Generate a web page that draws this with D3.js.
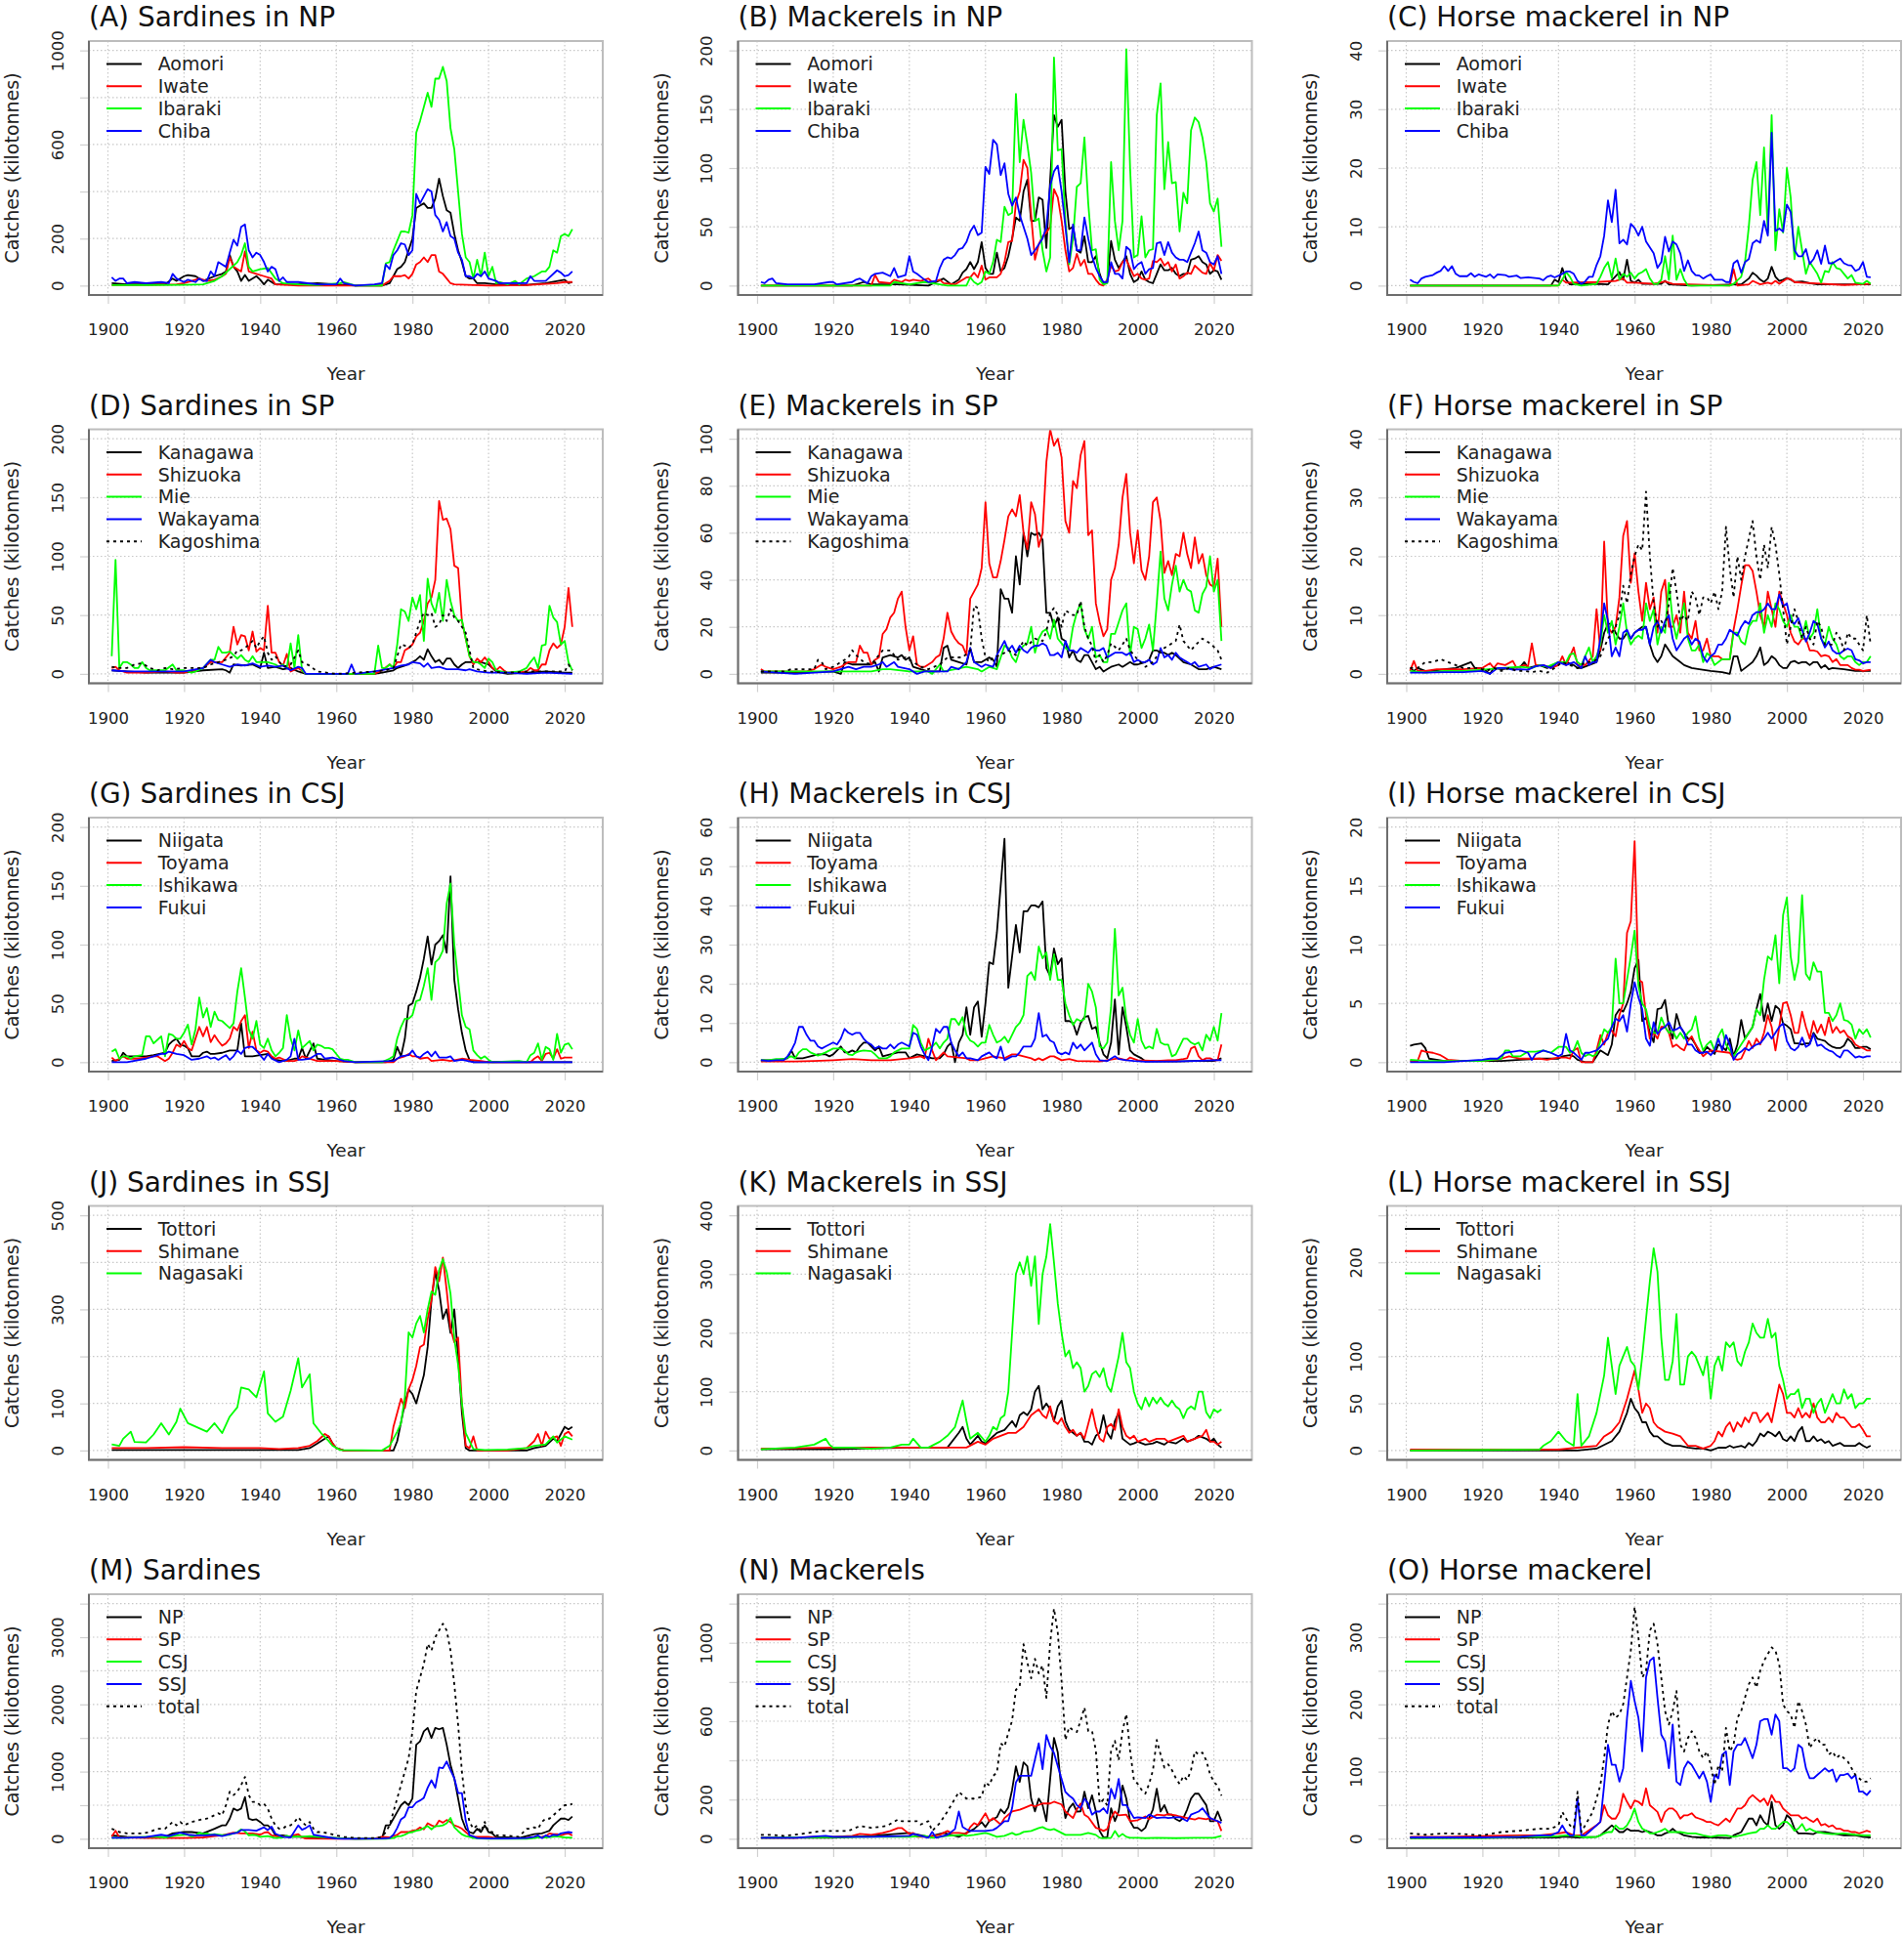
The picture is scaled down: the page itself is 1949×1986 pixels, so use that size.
<!DOCTYPE html>
<html>
<head>
<meta charset="utf-8">
<script src="https://cdn.jsdelivr.net/npm/d3@7"></script>
<style>
  body { margin: 0; background: #fff; }
  svg { display: block; font-family: "DejaVu Sans", sans-serif; }
</style>
</head>
<body>
<svg id="chart" width="1949" height="1986"></svg>
<script>
// every series is a flat list: year, catch (kilotonnes), year, catch, ...
var A_aomori = [1901,10,1905,5,1910,5,1915,5,1917,30,1918,20,1920,40,1921,45,1923,40,1925,20,1928,40,1930,50,1931,60,1932,130,1933,80,1934,60,1935,20,1936,45,1937,20,1939,40,1940,25,1941,5,1942,25,1943,15,1944,5,1950,5,1955,10,1960,5,1965,0,1972,0,1974,10,1975,40,1976,70,1977,80,1978,100,1979,150,1980,200,1981,330,1982,340,1983,350,1984,330,1985,330,1986,370,1987,455,1988,380,1989,320,1990,310,1991,220,1992,150,1993,100,1994,40,1995,30,1996,30,1997,10,1999,10,2002,5,2010,3,2015,10,2020,25,2021,10,2022,15];
var A_iwate = [1901,2,1910,2,1918,5,1920,10,1922,20,1924,30,1926,20,1928,25,1930,40,1931,50,1932,120,1933,80,1934,70,1935,60,1936,145,1937,60,1938,55,1939,50,1941,40,1943,30,1944,5,1950,0,1972,0,1974,20,1975,40,1977,40,1978,45,1979,30,1980,50,1981,90,1982,100,1983,120,1984,100,1985,130,1986,130,1987,60,1988,50,1989,30,1990,10,1991,5,2000,0,2010,2,2018,10,2020,15,2022,15];
var A_ibaraki = [1901,2,1910,2,1920,3,1925,5,1928,20,1930,40,1932,70,1934,100,1935,130,1936,180,1937,80,1938,60,1940,70,1942,75,1944,30,1946,10,1950,5,1955,2,1961,10,1962,15,1965,0,1972,0,1973,95,1974,100,1975,150,1976,190,1977,230,1978,230,1979,225,1980,300,1981,650,1982,700,1983,760,1984,820,1985,760,1986,880,1987,880,1988,930,1989,870,1990,670,1991,580,1992,400,1993,220,1994,120,1995,100,1996,30,1997,110,1998,40,1999,140,2000,40,2001,80,2002,10,2003,15,2005,5,2007,20,2008,5,2010,30,2012,40,2014,60,2015,60,2016,80,2017,150,2018,140,2019,210,2020,220,2021,210,2022,240];
var A_chiba = [1901,35,1902,20,1903,30,1904,30,1905,10,1907,15,1910,10,1914,15,1916,10,1917,50,1918,30,1920,15,1921,25,1923,15,1924,30,1925,20,1926,20,1927,60,1928,40,1929,100,1930,90,1931,80,1932,140,1933,195,1934,170,1935,250,1936,260,1937,150,1938,120,1939,140,1940,130,1941,100,1942,60,1943,80,1944,70,1945,20,1946,35,1947,15,1950,15,1955,5,1960,5,1961,30,1962,10,1965,0,1970,5,1972,10,1973,90,1974,70,1975,130,1976,150,1977,180,1978,175,1979,130,1980,150,1981,390,1982,350,1983,380,1984,410,1985,400,1986,300,1987,280,1988,230,1989,270,1990,210,1991,200,1992,140,1993,110,1994,40,1995,40,1996,30,1997,50,1998,40,1999,60,2000,30,2002,20,2003,10,2010,10,2011,40,2012,20,2015,20,2018,65,2019,55,2020,40,2021,45,2022,60];

var B_aomori = [1901,0,1925,0,1928,3,1930,1,1937,1,1945,0,1949,6,1951,1,1953,5,1954,11,1955,14,1956,20,1957,14,1958,20,1959,37,1960,15,1961,10,1962,10,1963,28,1964,12,1965,15,1966,25,1967,40,1968,58,1969,55,1970,80,1971,90,1972,55,1973,55,1974,75,1975,73,1976,32,1977,90,1978,145,1979,135,1980,141,1981,80,1982,48,1983,50,1984,30,1985,28,1986,42,1987,20,1988,20,1989,25,1990,10,1991,1,1992,3,1993,38,1994,22,1995,15,1996,20,1997,25,1998,10,1999,3,2000,5,2001,12,2002,5,2003,3,2004,2,2005,10,2006,18,2007,13,2008,13,2009,15,2010,10,2011,8,2012,10,2013,10,2014,22,2015,23,2016,25,2017,20,2018,18,2019,10,2020,13,2021,12,2022,5];
var B_iwate = [1901,0,1930,0,1931,9,1932,3,1935,2,1936,5,1938,3,1939,5,1940,4,1941,5,1943,4,1945,6,1946,3,1948,5,1949,2,1952,1,1955,7,1956,7,1957,11,1958,7,1959,17,1960,5,1961,7,1963,7,1964,10,1965,20,1966,37,1967,38,1968,70,1969,80,1970,107,1971,100,1972,60,1973,22,1974,35,1975,42,1976,45,1977,50,1978,82,1979,75,1980,55,1981,30,1982,12,1983,15,1984,27,1985,17,1986,22,1987,10,1988,10,1989,5,1990,1,1991,0,1992,5,1993,17,1994,12,1995,13,1996,20,1997,22,1998,15,1999,8,2000,10,2001,6,2002,5,2003,6,2004,21,2005,20,2006,23,2007,17,2008,20,2009,12,2010,18,2011,6,2012,8,2013,11,2014,10,2015,17,2016,14,2017,11,2018,10,2019,19,2020,13,2021,26,2022,21];
var B_ibaraki = [1901,0,1935,0,1936,3,1940,1,1944,3,1948,1,1950,0,1955,0,1956,7,1957,3,1958,1,1959,3,1960,12,1961,10,1962,20,1963,39,1964,37,1965,67,1966,60,1967,62,1968,163,1969,105,1970,141,1971,120,1972,96,1973,55,1974,57,1975,30,1976,12,1977,24,1978,194,1979,115,1980,116,1981,55,1982,18,1983,40,1984,84,1985,87,1986,126,1987,70,1988,30,1989,31,1990,5,1991,1,1992,2,1993,105,1994,55,1995,30,1996,55,1997,201,1998,100,1999,24,2000,26,2001,59,2002,24,2003,30,2004,31,2005,145,2006,172,2007,82,2008,122,2009,87,2010,88,2011,46,2012,79,2013,70,2014,132,2015,143,2016,139,2017,126,2018,105,2019,70,2020,63,2021,74,2022,33];
var B_chiba = [1901,3,1902,2,1903,5,1904,6,1905,2,1908,1,1915,1,1919,3,1920,3,1921,1,1925,3,1926,5,1927,6,1929,2,1930,8,1931,10,1933,11,1935,8,1936,15,1937,7,1939,9,1940,25,1941,12,1942,10,1944,5,1945,3,1947,4,1948,15,1949,22,1950,24,1951,23,1952,26,1953,31,1954,32,1955,37,1956,46,1957,51,1958,43,1959,45,1960,101,1961,95,1962,124,1963,120,1964,94,1965,104,1966,78,1967,68,1968,75,1969,60,1970,50,1971,40,1972,26,1973,30,1975,40,1976,50,1977,85,1978,97,1979,102,1980,80,1981,50,1982,20,1983,52,1984,30,1985,30,1986,58,1987,40,1988,25,1989,15,1990,8,1991,3,1992,3,1993,20,1994,10,1995,10,1996,6,1997,33,1998,30,1999,14,2000,18,2001,20,2002,10,2003,14,2004,15,2005,36,2006,37,2007,26,2008,37,2009,28,2010,24,2011,22,2012,22,2013,20,2014,28,2015,36,2016,46,2017,30,2018,28,2019,20,2020,18,2021,25,2022,10];

var C_aomori = [1901,0,1938,0,1939,1,1940,0.6,1941,3,1942,1,1943,0.2,1950,0.3,1953,0.2,1956,2.3,1957,1,1958,4.4,1959,0.8,1960,0.5,1961,1,1962,0.3,1967,0.3,1968,0.8,1969,0.2,1975,0,1988,0.2,1990,1.2,1991,2.2,1992,1.7,1993,1,1994,0.6,1995,1.2,1996,3.2,1997,1.5,1998,0.8,1999,1,2000,1.3,2001,1,2002,0.6,2004,0.7,2006,0.4,2008,0.2,2022,0.2];
var C_iwate = [1901,0,1940,0,1941,1,1942,0.5,1950,0.6,1955,0.8,1957,1.2,1958,0.5,1960,0.5,1965,0.3,1968,0.7,1970,0.3,1985,0,1986,2.8,1987,0,1990,0.2,1991,0.8,1993,0.2,1995,0.5,1996,0.3,1997,0.8,1998,0.3,2000,1.2,2001,1.1,2002,0.6,2004,0.5,2010,0.3,2015,0.1,2022,0.3];
var C_ibaraki = [1901,0,1940,0,1941,1,1942,2.3,1943,1.5,1944,0.3,1946,0,1950,0.3,1951,1.5,1952,3,1953,4,1954,1.3,1955,4.6,1956,1,1957,2,1958,1.5,1959,2.2,1960,1.2,1961,2,1962,2.3,1963,2.8,1964,1.2,1965,0.3,1966,0.3,1967,1,1968,5,1969,1,1970,8.5,1971,1,1972,2.8,1973,1,1974,0,1985,0,1986,0.3,1988,1.5,1989,4,1990,10,1991,18,1992,21,1993,12,1994,23.5,1995,9,1996,29,1997,6,1998,13,1999,9,2000,20,2001,15,2002,4.5,2003,10,2004,6,2005,2,2006,4,2007,3,2008,2,2009,0.5,2010,2.5,2011,2.3,2012,4,2013,3,2014,2.8,2015,2,2016,1.2,2017,1.8,2018,0.5,2020,0.3,2021,0.8,2022,0.3];
var C_chiba = [1901,1,1902,0.6,1903,0.4,1904,1.2,1905,1.5,1907,1.8,1908,2.2,1909,2.5,1910,3.3,1911,2.5,1912,3.3,1913,2,1914,1.6,1916,1.6,1917,2.1,1918,1.5,1919,1.9,1921,1.5,1922,1.9,1923,1.3,1924,1.9,1926,1.8,1927,1.5,1929,1.7,1930,1.3,1932,1.4,1935,1.2,1936,0.9,1937,1.5,1938,1.7,1939,1.4,1941,2,1942,2.4,1943,2.4,1944,2,1945,0.8,1946,0.3,1947,0.7,1948,1.5,1949,1.5,1950,3.5,1951,5,1952,8.5,1953,14.5,1954,10.8,1955,16.3,1956,7.2,1957,7.8,1958,7,1959,10.5,1960,9.8,1961,8.5,1962,10,1963,7.5,1964,6.5,1965,5.5,1966,3,1967,4,1968,8.3,1969,5.8,1970,7.5,1971,7,1972,5.5,1973,2.5,1974,4.3,1975,2.5,1976,1.8,1977,1.7,1978,1.2,1979,1.6,1980,1.9,1981,1,1983,1,1984,0.6,1985,0.6,1986,3.8,1987,4.3,1988,2.2,1989,4,1990,4.5,1991,7.2,1992,7.7,1993,7.3,1994,11,1995,8.5,1996,26,1997,9.3,1998,9.7,1999,9.2,2000,13.8,2001,12.5,2002,6,2003,5,2004,5,2005,6.2,2006,3.7,2007,4.5,2008,6,2009,3.7,2010,6.8,2011,3.8,2012,3.8,2013,4.2,2014,4.6,2015,3.8,2016,3.5,2017,3.4,2018,2.5,2019,2.8,2020,4,2021,1.5,2022,1.4];

var D_kanagawa = [1901,3,1905,2,1910,1,1920,1,1925,3,1930,4,1931,3,1932,1,1933,8,1935,7,1938,8,1940,5,1941,18,1942,5,1944,6,1946,4,1948,5,1950,2,1952,0,1970,0,1972,1,1975,3,1976,5,1978,7,1980,10,1981,12,1982,15,1983,12,1984,21,1985,15,1986,10,1987,12,1988,8,1989,13,1990,13,1991,8,1992,5,1993,8,1994,10,1995,10,1996,10,1998,10,2000,8,2001,5,2002,2,2005,0,2010,1,2015,2,2020,1,2022,1];
var D_shizuoka = [1901,5,1902,6,1903,3,1905,1,1910,1,1915,2,1918,1,1920,1,1925,5,1927,10,1930,10,1932,18,1933,40,1934,25,1935,33,1936,32,1937,20,1938,36,1939,19,1940,22,1941,20,1942,58,1943,18,1944,18,1945,10,1946,7,1947,17,1948,2,1950,5,1952,0,1970,0,1972,3,1974,8,1975,5,1976,10,1977,10,1978,20,1979,22,1980,25,1981,32,1982,35,1983,45,1984,60,1985,65,1986,80,1987,147,1988,131,1989,132,1990,123,1991,92,1992,90,1993,45,1994,30,1995,15,1996,8,1997,13,1998,10,1999,14,2000,10,2001,5,2002,3,2003,6,2004,3,2005,1,2010,2,2011,5,2012,3,2013,3,2014,8,2015,8,2016,20,2017,26,2018,22,2019,25,2020,40,2021,73,2022,40];
var D_mie = [1901,15,1902,97,1903,5,1904,10,1905,10,1906,8,1907,5,1908,5,1909,10,1910,5,1911,3,1915,3,1917,8,1918,3,1920,3,1922,1,1923,2,1925,5,1927,12,1928,12,1929,23,1930,18,1931,18,1932,19,1933,16,1934,13,1935,16,1936,12,1937,10,1938,15,1939,10,1940,10,1942,10,1944,8,1945,6,1946,8,1947,5,1948,26,1949,5,1950,33,1951,3,1952,0,1970,0,1971,24,1972,5,1973,5,1974,8,1975,5,1976,25,1977,55,1978,53,1979,45,1980,65,1981,55,1982,67,1983,28,1984,81,1985,60,1986,52,1987,69,1988,45,1989,80,1990,62,1991,50,1992,45,1993,46,1994,30,1995,15,1996,10,1997,10,1998,8,1999,5,2000,13,2001,10,2002,3,2005,1,2008,2,2010,5,2011,10,2012,14,2013,5,2014,24,2015,25,2016,58,2017,48,2018,44,2019,25,2020,28,2021,10,2022,3];
var D_wakayama = [1901,3,1905,2,1910,2,1915,2,1920,2,1925,5,1927,12,1928,10,1930,8,1932,6,1934,8,1936,7,1938,9,1940,6,1942,7,1944,6,1946,7,1948,3,1950,6,1951,5,1952,0,1963,0,1964,8,1965,0,1970,2,1975,5,1977,7,1979,8,1980,10,1982,9,1983,6,1984,9,1985,5,1987,6,1989,4,1992,4,1994,3,1995,4,1997,2,2000,1,2005,1,2010,0,2015,1,2022,0];
var D_kagoshima = [1901,6,1903,5,1905,5,1907,8,1909,9,1911,5,1913,3,1915,5,1917,4,1920,5,1925,5,1927,8,1929,10,1931,12,1933,15,1934,20,1935,20,1936,22,1937,25,1938,28,1939,22,1940,28,1941,32,1942,18,1943,12,1944,15,1946,6,1948,8,1950,20,1951,10,1953,7,1955,2,1960,0,1970,2,1973,3,1975,5,1976,15,1977,25,1978,24,1979,22,1980,25,1981,35,1982,45,1983,52,1984,50,1985,52,1986,40,1987,42,1988,50,1989,45,1990,55,1991,48,1992,45,1993,40,1994,35,1995,20,1996,5,1998,3,2000,2,2005,1,2010,2,2015,2,2020,2,2021,8,2022,3];

var E_kanagawa = [1901,0.5,1910,0.5,1920,1,1922,0,1923,5,1925,4,1930,4,1931,5,1932,1,1933,7,1935,8,1937,7,1938,8,1939,6,1940,7,1941,3,1943,2,1945,1,1948,1,1949,11,1950,12,1951,6,1953,5,1955,4,1956,11,1957,5,1959,5,1961,7,1962,6,1963,3,1964,36,1965,32,1966,32,1967,26,1968,50,1969,38,1970,60,1971,50,1972,60,1973,59,1974,60,1975,57,1976,26,1977,26,1978,20,1979,24,1980,15,1981,14,1982,7,1983,10,1984,6,1985,5,1986,8,1987,8,1988,5,1989,2,1990,3,1991,1,1992,2,1993,3,1995,4,1996,3,1997,4,1998,5,1999,4,2000,4,2002,5,2003,6,2004,10,2005,10,2006,9,2007,9,2008,8,2009,9,2010,8,2012,5,2014,4,2016,2,2018,2,2020,3,2022,2];
var E_shizuoka = [1901,2,1902,1,1905,1,1910,1,1913,1,1915,2,1917,4,1918,3,1920,2,1922,3,1924,5,1926,5,1927,12,1928,9,1929,9,1930,4,1931,6,1932,7,1933,17,1934,19,1935,24,1936,26,1937,32,1938,35,1939,20,1940,10,1941,16,1942,4,1943,3,1944,3,1945,4,1946,5,1947,7,1948,8,1949,15,1950,26,1951,18,1952,15,1953,13,1954,12,1955,8,1956,32,1957,35,1958,38,1959,45,1960,73,1961,47,1962,41,1963,41,1964,48,1965,57,1966,67,1967,70,1968,67,1969,76,1970,60,1971,53,1972,73,1973,68,1974,54,1975,60,1976,90,1977,104,1978,97,1979,100,1980,92,1981,65,1982,60,1983,82,1984,79,1985,93,1986,99,1987,59,1988,61,1989,30,1990,22,1991,16,1992,19,1993,40,1994,45,1995,55,1996,75,1997,85,1998,60,1999,47,2000,61,2001,44,2002,40,2003,50,2004,73,2005,75,2006,65,2007,43,2008,48,2009,42,2010,51,2011,50,2012,60,2013,51,2014,45,2015,58,2016,47,2017,51,2018,42,2019,38,2020,37,2021,49,2022,20];
var E_mie = [1901,1,1910,1,1920,1,1925,1,1930,1,1933,2,1935,2,1940,1,1945,1,1946,0,1948,4,1949,1,1952,2,1955,3,1958,2,1959,1,1961,3,1963,2,1964,7,1965,12,1966,11,1967,7,1968,5,1969,10,1970,12,1971,13,1972,20,1973,9,1974,15,1975,18,1976,19,1977,15,1978,23,1979,15,1980,13,1981,11,1982,10,1983,20,1984,26,1985,30,1986,19,1987,15,1988,20,1989,7,1990,8,1991,5,1992,5,1993,17,1994,17,1995,22,1996,27,1997,30,1998,8,1999,20,2000,19,2001,11,2002,15,2003,21,2004,10,2005,30,2006,52,2007,32,2008,27,2009,38,2010,46,2011,35,2012,40,2013,36,2014,35,2015,27,2016,26,2017,34,2018,37,2019,50,2020,35,2021,40,2022,14];
var E_wakayama = [1901,1,1910,0,1920,1,1924,3,1926,2,1928,3,1930,3,1932,4,1933,5,1934,3,1936,5,1937,3,1940,2,1942,0,1944,1,1948,1,1950,1,1951,3,1953,2,1955,5,1956,11,1957,5,1959,3,1960,4,1962,3,1963,8,1964,11,1965,14,1966,10,1967,12,1968,9,1969,12,1970,10,1971,9,1972,11,1973,12,1974,12,1975,13,1976,12,1977,8,1978,8,1979,9,1980,7,1981,14,1982,10,1983,10,1984,9,1985,11,1986,10,1987,9,1988,11,1989,10,1990,10,1991,11,1992,7,1993,8,1994,9,1996,9,1997,8,1998,9,1999,5,2000,6,2001,5,2002,5,2003,6,2004,4,2005,5,2006,11,2007,7,2008,8,2009,6,2010,9,2011,7,2012,6,2013,5,2014,4,2015,5,2016,3,2018,4,2019,2,2020,3,2022,4];
var E_kagoshima = [1901,1,1903,1,1905,1,1907,1,1909,2,1911,2,1913,2,1915,2,1916,6,1917,5,1918,2,1920,3,1922,5,1924,7,1925,10,1926,8,1928,5,1930,4,1932,8,1933,10,1935,10,1937,6,1939,7,1941,5,1943,3,1945,2,1948,4,1950,7,1952,7,1954,7,1956,10,1957,29,1958,28,1959,15,1960,7,1961,5,1962,7,1964,8,1966,10,1968,8,1970,14,1971,12,1973,15,1975,14,1976,18,1977,26,1978,28,1979,25,1980,20,1981,27,1982,26,1983,25,1984,25,1985,31,1986,20,1987,15,1988,12,1989,5,1990,8,1991,5,1992,8,1993,13,1995,10,1997,15,1998,10,2000,6,2002,3,2004,5,2006,10,2008,12,2010,14,2011,21,2012,14,2014,10,2015,12,2017,15,2019,13,2021,10,2022,6];

var F_kanagawa = [1901,1,1902,0.5,1903,1,1905,0.5,1907,0.5,1910,0.8,1913,1,1915,1.5,1917,2,1918,1,1920,1,1922,0,1923,1,1925,0.8,1928,1,1930,1.2,1931,2,1932,1,1935,1.5,1937,1,1940,2,1942,2,1944,1.5,1945,1,1946,1,1948,1.5,1950,2,1951,4,1952,7,1953,8.5,1954,8.5,1955,7,1956,6,1957,6,1958,7,1959,6,1960,7,1961,7.5,1962,8,1963,8,1964,5,1965,3,1966,2,1967,3,1968,5,1969,4,1970,3,1971,2.5,1972,2,1973,1.5,1975,1,1977,0.8,1980,0.5,1983,0.3,1985,0,1986,3,1987,3,1988,0.5,1990,1.5,1991,2,1992,3,1993,4.5,1994,1.5,1995,2,1996,3,1997,2.5,1998,1.5,1999,1,2000,1,2001,2,2002,2.2,2003,1.8,2004,2,2005,2,2006,1.5,2007,2,2008,2,2009,1,2010,1.5,2011,0.8,2012,1,2015,0.8,2018,0.5,2022,0.5];
var F_shizuoka = [1901,0.5,1902,2.2,1903,0.5,1905,0.5,1908,0.8,1910,0.8,1915,0.8,1920,1,1922,1.8,1923,1,1924,1.8,1926,1.5,1928,2.2,1929,1,1931,1.5,1932,1.3,1933,5.2,1934,1.5,1936,1.5,1938,1,1940,1.5,1941,3,1942,1.5,1944,4.5,1945,1.5,1947,1.5,1949,3,1950,11,1951,4,1952,22.5,1953,8,1954,7,1955,8,1956,13,1957,23.5,1958,26,1959,15.5,1960,20.5,1961,14,1962,9,1963,15.5,1964,11,1965,13,1966,7,1967,14,1968,16,1969,8,1970,8,1971,10,1972,7,1973,14,1974,7,1975,6,1976,9,1977,4,1978,4,1979,6,1980,3,1981,3,1982,3,1983,2.5,1984,2.5,1985,2.5,1986,7.5,1987,11,1988,15,1989,18.5,1990,18.5,1991,17.5,1992,14,1993,10,1994,8,1995,14,1996,11,1997,8,1998,14,1999,12,2000,10,2001,7,2002,5.5,2003,5,2004,6,2005,6,2006,4,2007,4,2008,3.8,2009,3,2010,3.2,2011,3,2012,2,2013,2.5,2014,1.5,2015,1.5,2016,1.5,2017,1,2018,0.7,2019,0.7,2020,0.5,2022,0.7];
var F_mie = [1901,0.5,1905,0.2,1910,0.5,1915,0.5,1920,0.7,1925,1,1930,1.2,1933,1,1935,1.5,1937,1.2,1940,2,1942,2,1943,3.3,1944,3.5,1945,2,1946,1.5,1947,3,1948,4.5,1949,2,1950,3,1951,5,1952,10,1953,7,1954,9,1955,5,1956,8,1957,12,1958,7,1959,5,1960,6,1961,6.5,1962,6,1963,12,1964,9,1965,11,1966,5,1967,8,1968,7,1969,15.5,1970,9,1971,6,1972,9,1973,12,1974,6,1975,4,1976,4,1977,5,1978,2,1979,3.5,1980,3,1981,1.5,1982,2,1983,2.5,1984,2.5,1985,2.5,1986,7,1987,7,1988,5.5,1989,5,1990,8,1991,9,1992,9,1993,12,1994,7,1995,10,1996,8,1997,12,1998,11,1999,9,2000,8,2001,10,2002,8,2003,8,2004,6,2005,9,2006,6,2007,7,2008,11,2009,6,2010,5,2011,8,2012,6,2013,5,2014,3,2015,2.5,2016,3,2017,3,2018,2,2019,1.5,2020,2,2021,2,2022,3];
var F_wakayama = [1901,0.2,1905,0.2,1910,0.3,1915,0.3,1920,0.5,1922,0,1924,1,1926,1,1928,0.7,1930,0.8,1932,0.7,1934,1.3,1936,1.5,1938,1,1940,2,1942,1.5,1944,2,1946,1,1947,3,1948,1.5,1949,2,1950,2,1951,6,1952,12,1953,9,1954,3,1955,4.5,1956,3,1957,7,1958,7.5,1959,6,1960,7,1961,7.5,1962,7.5,1963,8,1964,5,1965,8,1966,9,1967,7,1968,9,1969,10,1970,6,1971,4,1972,5,1973,6,1974,6.5,1975,5,1976,6,1977,5.5,1978,3,1979,2,1980,3,1981,3.5,1982,5,1983,5,1984,6,1985,7.5,1986,7,1987,6.5,1988,8,1989,9,1990,8.5,1991,10,1992,10.5,1993,10.5,1994,11,1995,12,1996,11,1997,11,1998,13.5,1999,11.5,2000,12,2001,9,2002,8.5,2003,9.5,2004,7.5,2005,5.5,2006,7,2007,9,2008,8.5,2009,6,2010,4.5,2011,5.5,2012,4,2013,3.5,2014,3.5,2015,4,2016,4.3,2017,4,2018,2.5,2019,2.3,2020,1.8,2021,2,2022,2];
var F_kagoshima = [1901,1,1903,1,1905,2,1907,2,1909,2.5,1911,2,1913,1.5,1915,1,1917,1,1919,1,1921,0.5,1923,1,1925,0.5,1927,1,1929,0.5,1931,0.5,1933,0.3,1935,0.5,1937,0.2,1939,1,1941,2,1943,1.5,1945,1,1947,2,1949,2,1951,3,1953,6,1955,8,1956,10,1957,15,1958,12,1959,17,1960,20,1961,22,1962,21,1963,31,1964,20,1965,12,1966,8,1967,9,1968,8,1969,12,1970,18,1971,14,1972,9,1973,10,1974,9,1975,14,1976,13,1977,10,1978,13,1979,13,1980,12,1981,14,1982,11,1983,14,1984,25,1985,18,1986,13,1987,20,1988,16,1989,20,1990,23,1991,26,1992,20,1993,16,1994,22,1995,18,1996,25,1997,22,1998,17,1999,11,2000,5,2001,8,2002,11,2003,9,2004,6,2005,8,2006,6,2007,5,2008,9,2009,8,2010,5,2011,5,2012,5,2013,7,2014,6,2015,4,2016,7,2017,6,2018,6,2019,5,2020,4,2021,10,2022,5];

var G_niigata = [1901,1,1903,2,1904,8,1905,5,1908,5,1910,5,1912,6,1915,8,1916,15,1917,18,1918,20,1919,15,1920,14,1921,12,1922,5,1923,5,1924,5,1925,8,1926,9,1927,7,1928,7,1930,8,1932,10,1934,10,1935,33,1936,5,1938,5,1940,6,1942,7,1944,2,1946,1,1948,2,1949,3,1950,3,1951,12,1952,3,1954,16,1955,3,1957,2,1960,1,1965,0,1973,0,1975,2,1976,13,1977,5,1978,20,1979,48,1980,50,1981,60,1982,72,1983,88,1984,107,1985,83,1986,100,1987,103,1988,108,1989,93,1990,158,1991,70,1992,45,1993,25,1994,10,1995,2,1996,0,2022,0];
var G_toyama = [1901,4,1902,1,1904,5,1905,3,1908,3,1910,4,1912,5,1913,5,1915,1,1916,3,1917,8,1918,15,1919,13,1920,18,1921,12,1922,10,1923,20,1924,30,1925,22,1926,30,1927,17,1928,23,1929,18,1930,14,1931,16,1932,20,1933,30,1934,27,1935,35,1936,40,1937,12,1938,26,1939,10,1940,8,1941,10,1942,9,1943,5,1944,3,1945,4,1947,1,1949,1,1950,2,1951,5,1955,1,1960,1,1965,0,1975,0,1976,3,1978,5,1979,7,1980,5,1981,5,1982,3,1984,4,1985,1,1988,2,1990,1,1993,3,1995,2,1998,1,2000,0,2011,0,2012,3,2013,5,2014,1,2015,7,2016,8,2017,3,2018,11,2019,3,2020,4,2022,4];
var G_ishikawa = [1901,9,1902,11,1903,3,1904,5,1905,5,1906,3,1907,5,1909,6,1910,22,1911,22,1912,16,1913,19,1914,22,1915,5,1916,24,1917,23,1918,20,1919,20,1920,25,1921,32,1922,15,1923,28,1924,55,1925,38,1926,46,1927,30,1928,43,1929,36,1930,35,1931,32,1932,29,1933,33,1934,60,1935,80,1936,55,1937,28,1938,20,1939,35,1940,15,1941,12,1942,20,1943,10,1944,5,1945,8,1946,12,1947,40,1948,20,1949,10,1950,27,1951,12,1952,15,1953,18,1954,10,1955,15,1956,14,1957,12,1958,12,1959,11,1960,7,1961,3,1962,2,1963,2,1965,0,1972,0,1974,3,1975,5,1976,20,1977,30,1978,37,1979,37,1980,40,1981,52,1982,53,1983,65,1984,80,1985,53,1986,85,1987,88,1988,95,1989,135,1990,152,1991,100,1992,70,1993,40,1994,30,1995,28,1996,10,1997,6,1998,3,1999,5,2000,2,2001,0,2008,1,2010,0,2011,6,2012,8,2013,16,2014,2,2015,13,2016,11,2017,2,2018,24,2019,8,2020,15,2021,16,2022,11];
var G_fukui = [1901,0,1905,0,1910,3,1912,5,1914,7,1915,7,1916,9,1918,7,1920,6,1922,2,1924,3,1926,5,1927,3,1928,4,1929,2,1930,4,1931,6,1932,2,1933,5,1934,10,1935,7,1936,12,1937,13,1938,13,1939,10,1940,6,1941,2,1942,7,1943,3,1945,0,1947,2,1948,5,1949,20,1950,2,1951,2,1953,3,1955,7,1956,7,1957,3,1959,4,1960,3,1962,1,1965,0,1975,1,1977,5,1979,6,1980,10,1981,5,1982,4,1983,7,1984,9,1985,5,1986,9,1987,4,1988,4,1989,4,1990,5,1991,1,1993,2,1996,0,2022,0];

var H_niigata = [1901,0.5,1905,0.5,1908,1,1909,3,1910,1,1912,1,1914,1.5,1916,2,1918,2,1919,1.5,1920,2,1921,3,1922,4,1923,2.5,1924,2.5,1925,3,1926,2.5,1927,4,1928,5,1929,5,1930,4,1931,3,1932,4,1933,1.5,1935,2,1937,2.5,1939,2.5,1940,1,1942,2,1944,1.5,1946,1,1948,1,1949,2,1950,4,1951,5,1952,0,1953,5,1954,7,1955,14,1956,7,1957,14,1958,15.5,1959,6.5,1960,15,1961,25.5,1962,25,1963,33,1964,45,1965,57,1966,19,1967,27,1968,35,1969,28,1970,38.5,1971,38.5,1972,40,1973,40,1974,39.5,1975,41,1976,24,1977,22,1978,29,1979,25,1980,26.5,1981,10.5,1982,10.5,1983,10,1984,7,1985,10,1986,11.5,1987,11.8,1988,8.5,1989,9,1990,5,1991,2,1992,1,1993,5,1994,16,1995,2,1996,14,1997,9,1998,3,1999,2,2000,1.5,2001,1,2002,0.2,2005,0.2,2010,0.2,2015,0.3,2020,0.3,2022,1];
var H_toyama = [1901,0.2,1910,0.2,1915,0.3,1920,0.5,1925,0.8,1930,0.5,1935,0.5,1940,1,1943,1.5,1944,1,1945,6,1946,3,1947,0.5,1948,1.5,1949,2.5,1950,1.5,1955,1,1956,0.5,1958,0.5,1960,1,1962,1.5,1965,1,1967,2,1968,2,1970,1.5,1972,1,1973,0.5,1974,1,1975,0.5,1977,1.5,1978,1.5,1980,0.5,1982,0.8,1984,0.3,1990,0.2,1995,1,1997,0.5,1998,1.2,2000,0.5,2005,0.3,2008,0.5,2010,0.5,2012,0.8,2013,1,2014,3.5,2015,4,2016,1.5,2017,0.5,2018,1,2019,1,2020,0.5,2021,0.5,2022,4.5];
var H_ishikawa = [1901,0.5,1903,0.5,1905,0.8,1907,0.8,1909,1.5,1910,1,1911,2.5,1912,3.3,1913,3.3,1914,2.5,1916,1.7,1918,2.5,1920,3.5,1922,3.5,1923,3,1924,2,1925,1.8,1926,2.5,1927,2.8,1928,3,1930,2.8,1931,2,1932,1,1934,1,1935,1.5,1936,2.5,1937,3,1938,3.5,1940,3.5,1941,9.5,1942,8.5,1943,5,1944,3,1945,3.5,1946,4,1947,5,1948,3.5,1949,5,1950,6,1951,11,1952,11,1953,9.5,1954,11.5,1955,7,1956,5.5,1957,5,1958,4,1959,5,1960,5,1961,9.5,1962,7,1963,5,1964,5.5,1965,6.5,1966,5,1967,7,1968,9,1969,10,1970,12,1971,22,1972,23,1973,21,1974,29.5,1975,26.5,1976,28,1977,21,1978,27.5,1979,21,1980,21,1981,15,1982,12,1983,9.5,1984,11,1985,10.5,1986,11,1987,20,1988,18,1989,14,1990,4,1991,3.5,1992,5,1993,14,1994,34,1995,17,1996,19,1997,11,1998,7,1999,5,2000,11,2001,5.5,2002,3.5,2003,4,2004,3.5,2005,8.5,2006,5,2007,4.5,2008,4.5,2009,1.5,2010,2,2011,4,2012,6,2013,6,2014,5,2015,4.5,2016,5,2017,3,2018,7,2019,5.5,2020,9,2021,5.5,2022,12.5];
var H_fukui = [1901,0.5,1903,0.3,1905,0.5,1907,0.5,1908,1.5,1909,3,1910,5,1911,9,1912,9,1913,7,1914,5.5,1915,5.5,1916,4,1917,3.5,1918,4,1919,4.5,1920,5,1921,4.5,1922,6,1923,8.5,1924,7.5,1925,7,1926,7.5,1927,7.5,1928,6,1929,5,1930,4.5,1931,3.5,1932,4,1933,3.5,1934,3.5,1935,4.5,1936,3.5,1937,4.5,1938,5,1939,4.5,1940,4,1941,7.5,1942,7,1943,4,1944,2,1945,0.5,1946,4,1947,8.5,1948,7.5,1949,9,1950,9,1951,5,1952,3,1953,1.5,1954,2.5,1955,1,1956,1,1958,0.5,1959,1.5,1960,2,1961,2.5,1962,1.5,1963,1,1964,4,1965,0.5,1966,1,1967,1.5,1968,1.5,1969,2.5,1970,4,1971,4,1972,4,1973,6,1974,12.5,1975,6.5,1976,7,1977,5.5,1978,5,1979,2.5,1980,2,1981,2.5,1982,2,1983,5,1984,3.5,1985,4.5,1986,3,1987,4,1988,5,1989,2,1990,0.5,1992,0.3,1994,1.5,1995,0.8,1997,0.5,1999,0.3,2002,0.1,2010,0.2,2015,0.3,2020,0.5,2022,0.5];

var I_niigata = [1901,1.4,1902,1.5,1904,1.6,1905,1.2,1906,0.3,1908,0.2,1910,0.1,1920,0.1,1925,0.1,1930,0.2,1935,0.3,1940,0.3,1941,0.5,1943,0.6,1944,0.5,1945,0.2,1947,0,1949,0,1950,0.5,1951,1,1952,0.8,1953,0.6,1954,1.5,1955,4,1956,4.5,1957,4.3,1958,5,1959,6,1960,8,1961,8.7,1962,3.5,1963,3.8,1964,2.5,1965,1.7,1966,4.5,1967,4.6,1968,5.3,1969,3,1970,2,1971,4.1,1972,3,1973,2.5,1974,2,1975,2,1976,1.5,1977,0.8,1978,0.8,1979,1.3,1980,1,1981,0.7,1982,1.5,1983,1.3,1984,1,1985,2,1986,0.5,1987,1.5,1988,3.6,1989,2,1990,2.5,1991,3,1992,4.5,1993,5.8,1994,3.5,1995,5,1996,3.5,1997,4.8,1998,4.5,1999,3.3,2000,3.1,2001,2.8,2002,1.6,2003,1.6,2004,1.5,2005,1.6,2006,1.6,2007,2.5,2008,2,2009,1.9,2010,1.8,2011,1.5,2012,1.3,2013,1.2,2014,1.2,2015,1.4,2016,2,2017,1.7,2018,1.2,2019,1.2,2020,1.3,2021,1.3,2022,1.1];
var I_toyama = [1901,0.1,1903,0.1,1904,1,1905,0.9,1907,0.8,1909,0.6,1910,0.4,1911,0.2,1915,0.1,1920,0.1,1925,0.3,1927,0.5,1930,0.3,1935,0.3,1937,0.2,1940,0.4,1942,0.4,1943,0.3,1944,1,1945,1.2,1946,0,1949,0,1950,1,1951,2.3,1952,1.5,1953,2.5,1954,2.7,1955,2.2,1956,4,1957,5,1958,11,1959,12,1960,18.8,1961,7,1962,6.8,1963,4,1964,2,1965,2.5,1966,2,1967,3,1968,3,1969,2.5,1970,1.3,1971,1.5,1972,1.2,1973,1,1974,1.8,1975,2.2,1976,1.5,1977,1,1978,0.5,1979,0.8,1980,1,1985,0.8,1986,0.3,1987,0.2,1988,0.3,1989,1,1990,1.8,1991,1.2,1992,2,1993,1.5,1994,2.5,1995,4,1996,3,1997,1,1998,3,1999,5,2000,5.1,2001,4,2002,2.5,2003,2.5,2004,4.3,2005,3,2006,2,2007,3.5,2008,2.5,2009,3.2,2010,2.3,2011,3.8,2012,2.5,2013,3,2014,2.5,2015,2.7,2016,2.2,2017,2,2018,1.5,2019,1.3,2020,1.2,2021,1,2022,1];
var I_ishikawa = [1901,0.2,1905,0.1,1910,0.1,1915,0.1,1920,0.1,1925,0.3,1926,1,1927,1,1928,0.5,1930,0.5,1932,0.9,1934,0.9,1936,1,1938,0.8,1940,1.3,1942,1.3,1943,0.8,1944,1,1945,1.8,1946,0.8,1947,0.5,1948,0.7,1949,0.5,1950,0.7,1951,1.8,1952,2.8,1953,2.5,1954,3,1955,8.8,1956,5,1957,5,1958,7,1959,9,1960,11.2,1961,6.5,1962,5,1963,4.5,1964,3,1965,2.5,1966,2.5,1967,3.8,1968,3,1969,2.5,1970,2.7,1971,2,1972,2.5,1973,2,1974,2.5,1975,2.8,1976,3.9,1977,2,1978,1,1979,1.5,1980,1.8,1981,1,1982,2.2,1983,2.8,1984,1.5,1985,1,1986,0.5,1987,1,1988,1.5,1989,2,1990,2.5,1991,3,1992,4.5,1993,4,1994,7,1995,9,1996,8.7,1997,10.8,1998,6.7,1999,12.5,2000,14,2001,9,2002,7,2003,8.5,2004,14.2,2005,7.5,2006,7,2007,8.5,2008,7.7,2009,7.7,2010,4.2,2011,4.2,2012,3.5,2013,4,2014,5,2015,3.6,2016,3.5,2017,3.2,2018,2,2019,2.8,2020,2.4,2021,2.8,2022,2.1];
var I_fukui = [1901,0,1910,0,1920,0.2,1922,0.3,1924,0.3,1926,0.8,1928,0.9,1930,1,1932,0.8,1933,0.2,1934,0.7,1936,1,1938,0.8,1940,0.5,1941,0.7,1942,2.4,1943,1,1944,0.8,1945,0.5,1946,0.2,1947,0.8,1948,0.8,1950,1,1951,1.3,1952,1.7,1953,2,1954,3,1955,3.7,1956,3.5,1957,4,1958,2.6,1959,5,1960,6.8,1961,5.5,1962,4.5,1963,2,1964,1.4,1965,3.4,1966,2.4,1967,2.8,1968,3,1969,3.4,1970,2.7,1971,2.8,1972,3,1973,2.5,1974,1.5,1975,1.5,1976,1,1977,0.8,1978,0.8,1979,0.9,1980,0.6,1981,1,1982,2,1983,1,1984,2.3,1985,1.5,1986,0.2,1987,0.7,1988,0.9,1989,1.2,1990,1,1991,1.3,1992,1.5,1993,1.6,1994,2,1995,2.5,1996,2,1997,2.5,1998,3,1999,3.3,2000,1.8,2001,1.2,2002,1,2003,1.3,2004,2.1,2005,1.3,2006,1.5,2007,2.4,2008,1.4,2009,1.5,2010,1.2,2011,1,2012,0.9,2013,0.6,2014,0.4,2015,1,2016,1,2017,0.7,2018,0.4,2019,0.5,2020,0.4,2021,0.5,2022,0.5];

var J_tottori = [1901,1,1950,1,1953,5,1955,15,1957,25,1958,30,1959,15,1960,5,1962,0,1975,0,1976,20,1977,60,1978,100,1979,130,1980,120,1981,100,1982,130,1983,160,1984,220,1985,320,1986,380,1987,340,1988,280,1989,300,1990,250,1991,300,1992,200,1993,80,1994,5,1995,0,2010,0,2012,5,2015,10,2017,25,2018,20,2019,35,2020,50,2021,45,2022,50];
var J_shimane = [1901,5,1910,5,1920,7,1930,5,1940,5,1945,3,1950,5,1953,10,1955,20,1957,35,1958,30,1959,15,1960,5,1962,0,1974,0,1975,50,1977,110,1978,90,1979,130,1980,150,1981,180,1982,220,1983,225,1984,280,1985,320,1986,390,1987,360,1988,410,1989,340,1990,260,1991,230,1992,240,1993,100,1994,10,1995,5,1996,30,1997,0,2005,0,2010,5,2012,20,2013,35,2014,10,2015,40,2016,25,2018,30,2019,10,2020,35,2021,40,2022,30];
var J_nagasaki = [1901,13,1903,10,1904,25,1906,40,1907,18,1910,17,1912,34,1914,58,1916,34,1918,61,1919,89,1921,58,1923,51,1926,40,1928,58,1930,37,1932,72,1934,92,1935,134,1937,130,1939,113,1941,168,1942,79,1944,61,1946,72,1948,127,1950,196,1951,134,1953,162,1954,58,1956,37,1958,20,1959,10,1961,1,1972,0,1974,10,1976,40,1977,58,1978,113,1979,251,1980,240,1981,270,1982,286,1983,251,1984,300,1985,338,1986,331,1987,383,1988,407,1989,380,1990,334,1991,238,1992,182,1993,100,1994,37,1996,3,1999,1,2005,2,2010,5,2012,10,2015,13,2017,30,2018,17,2020,30,2022,23];

var K_tottori = [1901,2,1920,2,1940,5,1950,5,1953,30,1954,40,1955,20,1956,10,1958,25,1959,15,1960,12,1963,30,1965,35,1967,50,1968,40,1969,60,1970,65,1971,60,1972,70,1973,100,1974,110,1975,70,1976,80,1977,70,1978,50,1979,75,1980,85,1981,50,1982,35,1983,30,1984,25,1985,30,1986,15,1987,15,1988,10,1989,25,1990,30,1991,60,1992,30,1993,20,1994,50,1995,65,1996,20,1997,15,1998,10,1999,12,2000,15,2002,10,2004,12,2005,15,2007,10,2008,15,2010,12,2012,20,2013,15,2015,20,2016,25,2018,20,2019,15,2020,20,2021,10,2022,5];
var K_shimane = [1901,3,1920,5,1940,5,1950,5,1955,5,1958,15,1960,10,1962,20,1964,25,1966,30,1968,30,1970,40,1972,60,1974,70,1975,60,1976,55,1977,75,1978,50,1979,45,1980,55,1981,40,1982,30,1983,35,1984,25,1985,30,1986,20,1987,45,1988,70,1989,40,1990,20,1991,15,1992,40,1993,45,1994,35,1995,70,1996,40,1997,25,1998,20,1999,25,2000,15,2002,20,2003,15,2005,20,2007,20,2008,15,2010,20,2012,25,2013,15,2015,20,2017,25,2018,35,2019,15,2020,15,2021,10,2022,15];
var K_nagasaki = [1901,2,1910,5,1915,10,1918,20,1919,10,1920,5,1925,5,1930,3,1935,5,1938,10,1940,10,1941,20,1943,5,1945,5,1948,15,1950,25,1952,40,1954,85,1955,50,1956,20,1958,30,1960,15,1961,25,1962,40,1963,35,1964,55,1965,60,1966,100,1967,200,1968,300,1969,320,1970,300,1971,330,1972,280,1973,330,1974,215,1975,300,1976,330,1977,385,1978,320,1979,250,1980,200,1981,160,1982,170,1983,140,1984,150,1985,140,1986,100,1987,110,1988,130,1989,135,1990,125,1991,140,1992,110,1993,100,1994,130,1995,160,1996,200,1997,150,1998,140,1999,100,2000,80,2001,70,2002,90,2003,75,2004,90,2005,80,2006,90,2007,80,2008,75,2009,85,2010,75,2011,70,2012,55,2013,70,2014,75,2015,70,2016,100,2017,100,2018,65,2019,55,2020,70,2021,65,2022,70];

var L_tottori = [1901,0,1945,0,1950,2,1954,10,1956,20,1958,40,1959,55,1960,45,1961,40,1962,30,1963,30,1964,20,1965,15,1966,15,1968,8,1970,5,1972,5,1974,3,1976,2,1978,2,1980,0,1982,3,1984,3,1985,5,1986,3,1988,5,1989,3,1990,8,1991,5,1992,10,1993,18,1994,15,1995,20,1996,18,1997,15,1998,20,1999,12,2000,10,2001,15,2002,10,2003,20,2004,25,2005,10,2006,10,2007,15,2008,10,2009,12,2010,8,2011,10,2012,5,2014,8,2015,5,2016,5,2018,5,2019,8,2020,5,2021,3,2022,5];
var L_shimane = [1901,1,1940,1,1945,3,1950,5,1952,15,1954,20,1956,30,1958,55,1959,70,1960,85,1961,65,1962,40,1963,50,1964,45,1965,30,1966,25,1968,20,1970,18,1972,15,1974,5,1976,5,1978,2,1980,5,1981,10,1982,20,1983,15,1984,25,1985,30,1986,20,1987,30,1988,25,1989,35,1990,30,1991,40,1992,40,1993,30,1994,35,1995,40,1996,30,1997,50,1998,70,1999,60,2000,40,2001,40,2002,35,2003,45,2004,35,2005,40,2006,35,2007,50,2008,35,2009,30,2010,30,2011,35,2012,30,2013,40,2014,35,2015,35,2016,30,2017,25,2018,25,2019,28,2020,22,2021,15,2022,15];
var L_nagasaki = [1901,0,1935,1,1936,5,1938,10,1940,20,1942,10,1944,5,1945,60,1946,5,1948,15,1950,40,1952,80,1953,120,1955,60,1956,90,1958,110,1959,95,1960,90,1961,65,1962,100,1963,140,1964,180,1965,215,1966,190,1967,120,1968,75,1969,75,1970,95,1971,145,1972,70,1973,70,1974,100,1975,105,1976,100,1977,90,1978,80,1979,100,1980,55,1981,90,1982,100,1983,85,1984,115,1985,110,1986,115,1987,95,1988,90,1989,105,1990,115,1991,135,1992,125,1993,120,1994,120,1995,140,1996,120,1997,125,1998,90,1999,75,2000,55,2001,60,2002,60,2003,65,2004,45,2005,55,2006,55,2007,40,2008,50,2009,55,2010,40,2011,50,2012,60,2013,50,2014,50,2015,65,2016,55,2017,60,2018,45,2019,50,2020,50,2021,55,2022,55];

var M_np = [1901,50,1905,30,1910,20,1915,30,1917,80,1920,100,1922,100,1925,80,1928,150,1930,200,1931,200,1932,300,1933,450,1934,420,1935,450,1936,620,1937,300,1938,280,1939,290,1940,250,1941,200,1942,200,1943,150,1944,50,1946,50,1948,30,1950,30,1955,20,1960,10,1965,0,1972,5,1973,200,1974,200,1975,300,1976,400,1977,500,1978,550,1979,500,1980,600,1981,1400,1982,1450,1983,1600,1984,1650,1985,1500,1986,1650,1987,1630,1988,1650,1989,1400,1990,1100,1991,900,1992,600,1993,300,1994,150,1995,100,1996,80,1997,150,1998,100,1999,200,2000,100,2001,80,2002,20,2005,20,2008,10,2010,40,2012,70,2014,80,2015,100,2016,120,2017,200,2018,250,2019,300,2020,300,2021,280,2022,330];
var M_sp = [1901,30,1902,120,1903,20,1905,20,1910,10,1915,15,1920,10,1925,20,1928,40,1930,50,1933,90,1935,80,1938,80,1940,60,1941,90,1942,100,1943,50,1945,30,1948,40,1950,70,1951,20,1952,5,1960,0,1970,5,1972,30,1974,20,1976,60,1977,100,1978,100,1979,100,1980,120,1981,130,1982,170,1983,140,1984,230,1985,200,1986,180,1987,270,1988,240,1989,280,1990,250,1991,200,1992,180,1993,150,1994,100,1995,50,1996,30,1998,30,2000,30,2002,10,2005,5,2010,10,2012,20,2014,30,2015,40,2016,80,2017,70,2018,70,2019,50,2020,70,2021,80,2022,50];
var M_csj = [1901,15,1905,15,1910,30,1913,30,1915,20,1917,40,1918,50,1920,60,1921,60,1922,30,1923,50,1924,90,1925,70,1926,80,1927,60,1928,70,1930,55,1932,60,1934,100,1935,140,1936,110,1937,50,1938,60,1939,50,1940,30,1942,40,1944,10,1946,20,1947,45,1948,30,1950,35,1951,30,1953,40,1955,30,1958,20,1960,10,1962,5,1965,0,1973,0,1975,10,1976,35,1977,40,1978,60,1979,90,1980,100,1981,120,1982,130,1983,160,1984,190,1985,140,1986,190,1987,190,1988,200,1989,230,1990,310,1991,170,1992,115,1993,65,1994,40,1995,30,1996,10,1998,5,2000,2,2010,0,2011,5,2013,20,2015,20,2018,35,2020,20,2022,15];
var M_ssj = [1901,15,1905,15,1910,25,1914,60,1916,40,1919,90,1921,60,1923,50,1926,50,1928,60,1930,40,1932,70,1934,90,1935,130,1937,130,1939,120,1941,170,1942,130,1943,180,1944,75,1946,30,1948,20,1950,200,1951,135,1952,160,1953,200,1954,60,1956,40,1958,20,1960,5,1962,0,1972,5,1974,10,1975,60,1976,160,1977,290,1978,330,1979,470,1980,470,1981,540,1982,570,1983,610,1984,760,1985,870,1986,760,1987,1060,1988,1050,1989,1150,1990,1020,1991,900,1992,680,1993,680,1994,270,1995,50,1996,35,1997,10,2000,5,2005,5,2010,10,2012,30,2013,50,2014,10,2015,50,2016,30,2017,60,2018,50,2019,80,2020,90,2021,100,2022,90];
var M_total = [1901,150,1903,100,1905,80,1907,80,1909,80,1911,100,1913,150,1915,150,1917,250,1918,200,1919,250,1920,200,1922,250,1924,280,1926,300,1928,350,1929,380,1930,350,1931,500,1932,700,1933,650,1934,700,1935,800,1936,920,1937,650,1938,550,1939,550,1940,500,1941,520,1942,450,1943,300,1944,200,1945,150,1946,150,1947,200,1948,200,1949,250,1950,320,1951,250,1952,200,1953,250,1954,150,1955,100,1956,100,1958,80,1960,50,1962,30,1965,10,1970,10,1972,30,1973,100,1974,200,1975,400,1976,600,1977,800,1978,1000,1979,1200,1980,1600,1981,2200,1982,2400,1983,2600,1984,2900,1985,2800,1986,3000,1987,3100,1988,3200,1989,3100,1990,2800,1991,2300,1992,1700,1993,1000,1994,500,1995,250,1996,150,1997,200,1998,100,1999,250,2000,100,2001,100,2002,50,2004,50,2006,40,2008,30,2010,150,2011,150,2012,170,2013,150,2014,250,2015,300,2016,300,2017,350,2018,400,2019,450,2020,500,2021,500,2022,520];

var N_np = [1901,5,1920,5,1930,15,1940,30,1945,10,1949,30,1950,25,1953,10,1955,30,1957,50,1959,85,1960,60,1961,90,1963,110,1964,150,1965,130,1966,160,1967,250,1968,370,1969,290,1970,390,1971,370,1972,205,1973,140,1974,205,1975,172,1976,90,1977,305,1978,515,1979,440,1980,239,1981,106,1982,156,1983,180,1984,139,1985,140,1986,240,1987,156,1988,222,1989,140,1990,40,1991,7,1992,7,1993,156,1994,90,1995,140,1996,272,1997,205,1998,90,1999,56,2000,56,2001,40,2002,56,2003,106,2004,150,2005,255,2006,139,2007,172,2008,123,2009,123,2010,100,2011,90,2012,106,2013,150,2014,205,2015,230,2016,230,2017,200,2018,172,2019,90,2020,90,2021,139,2022,90];
var N_sp = [1901,5,1910,5,1915,10,1920,10,1925,15,1927,25,1930,20,1933,30,1935,40,1937,55,1938,55,1939,40,1940,25,1941,30,1942,10,1945,10,1948,20,1950,40,1951,30,1953,30,1955,25,1956,60,1957,80,1958,70,1960,130,1961,90,1962,106,1964,73,1965,106,1967,139,1969,148,1970,156,1972,172,1973,165,1975,180,1977,180,1978,189,1980,175,1981,139,1983,106,1984,150,1985,180,1986,123,1987,110,1989,56,1990,50,1991,40,1992,50,1993,106,1994,139,1995,120,1997,123,1998,90,2000,95,2002,114,2003,100,2005,123,2007,120,2008,126,2010,120,2011,114,2013,106,2015,98,2016,106,2018,100,2019,106,2020,95,2021,90,2022,40];
var N_csj = [1901,5,1920,8,1930,10,1940,10,1944,15,1946,5,1950,15,1954,20,1955,15,1957,20,1960,30,1961,25,1963,10,1965,15,1967,30,1968,20,1969,25,1970,35,1972,40,1974,55,1975,60,1976,50,1977,45,1978,50,1979,40,1980,30,1981,20,1983,20,1985,20,1987,30,1988,25,1989,20,1990,5,1991,3,1993,5,1994,40,1995,10,1996,25,1997,10,1998,5,2000,5,2002,3,2005,5,2010,3,2015,5,2020,5,2022,15];
var N_ssj = [1901,5,1910,5,1918,15,1920,10,1930,10,1940,15,1941,25,1943,15,1945,5,1946,35,1947,5,1950,20,1952,50,1953,139,1954,60,1955,48,1956,40,1958,40,1960,40,1962,45,1963,56,1965,90,1966,90,1967,156,1968,288,1969,321,1970,321,1971,321,1972,321,1973,404,1974,487,1975,355,1976,529,1977,471,1978,438,1979,371,1980,305,1981,239,1982,220,1983,205,1984,172,1985,156,1986,205,1987,180,1988,123,1989,139,1990,139,1991,156,1992,130,1993,255,1994,205,1995,305,1996,172,1997,172,1998,139,1999,106,2000,110,2002,106,2003,123,2005,106,2007,110,2008,106,2010,110,2011,110,2013,90,2014,123,2016,139,2017,156,2019,106,2020,98,2021,90,2022,81];
var N_total = [1901,20,1904,20,1907,15,1911,23,1914,31,1917,40,1920,40,1924,40,1927,65,1930,56,1934,65,1937,98,1938,90,1940,90,1942,90,1943,73,1945,90,1946,40,1948,80,1950,139,1952,205,1953,239,1955,205,1957,205,1959,214,1960,288,1961,272,1962,321,1963,338,1964,487,1965,471,1966,540,1967,603,1968,760,1969,780,1970,993,1971,900,1972,819,1973,918,1974,844,1975,885,1976,719,1977,1000,1978,1175,1979,1051,1980,802,1981,504,1982,570,1983,554,1984,545,1985,603,1986,670,1987,550,1988,550,1989,450,1990,180,1991,200,1992,170,1993,450,1994,500,1995,400,1996,550,1997,636,1998,450,1999,300,2000,280,2001,250,2002,230,2003,280,2004,350,2005,504,2006,430,2007,363,2008,380,2009,350,2010,310,2011,280,2012,320,2013,300,2014,350,2015,446,2016,430,2017,440,2018,400,2019,330,2020,290,2021,270,2022,220];

var O_np = [1901,1,1940,2,1941,3,1942,3,1945,2,1950,3,1951,5,1952,10,1953,15,1954,20,1955,15,1956,10,1957,10,1958,15,1959,12,1960,12,1961,12,1962,10,1963,12,1964,10,1965,8,1966,5,1967,5,1968,8,1969,10,1970,15,1971,10,1972,8,1973,5,1975,3,1977,2,1980,2,1985,1,1986,5,1988,10,1990,30,1991,30,1992,20,1993,35,1994,25,1995,20,1996,55,1997,20,1998,15,1999,20,2000,35,2001,30,2002,15,2003,8,2005,8,2007,7,2008,10,2010,10,2012,8,2015,5,2018,5,2020,3,2022,2];
var O_sp = [1901,3,1910,3,1920,4,1930,5,1935,5,1940,8,1942,10,1944,5,1946,5,1950,20,1951,25,1952,50,1953,35,1954,30,1955,30,1956,40,1957,67,1958,55,1959,45,1960,57,1961,55,1962,50,1963,75,1964,50,1965,45,1966,40,1967,25,1968,40,1969,45,1970,45,1971,40,1972,30,1973,35,1974,35,1975,38,1976,32,1977,30,1978,28,1979,25,1980,25,1981,22,1982,20,1983,25,1984,30,1985,25,1986,35,1987,45,1988,45,1989,50,1990,60,1991,65,1992,60,1993,55,1994,60,1995,50,1996,65,1997,55,1998,55,1999,45,2000,40,2001,35,2002,35,2003,35,2004,30,2005,32,2006,28,2007,25,2008,30,2009,20,2010,22,2011,18,2012,20,2013,15,2014,15,2015,12,2016,12,2017,10,2018,10,2019,8,2020,10,2021,12,2022,10];
var O_csj = [1901,1,1910,1,1920,1,1925,2,1930,3,1935,3,1940,4,1942,5,1945,4,1947,2,1950,3,1951,5,1952,8,1953,10,1954,10,1955,20,1956,15,1957,15,1958,20,1959,30,1960,45,1961,25,1962,15,1963,12,1964,8,1965,8,1966,10,1967,12,1968,15,1969,10,1970,10,1972,10,1974,8,1976,8,1978,5,1980,3,1982,5,1984,5,1986,3,1988,5,1990,8,1992,10,1993,15,1994,15,1995,20,1996,15,1997,15,1998,20,1999,25,2000,25,2001,20,2002,12,2003,15,2004,22,2005,12,2006,15,2007,12,2008,10,2010,8,2012,7,2015,8,2018,6,2020,5,2022,5];
var O_ssj = [1901,2,1910,2,1920,2,1930,3,1935,5,1938,5,1940,10,1941,20,1942,10,1943,5,1944,5,1945,60,1946,5,1947,5,1948,10,1950,20,1951,25,1952,80,1953,140,1954,110,1955,110,1956,85,1957,105,1958,180,1959,235,1960,205,1961,180,1962,130,1963,240,1964,265,1965,270,1966,210,1967,155,1968,145,1969,105,1970,170,1971,85,1972,80,1973,105,1974,115,1975,110,1976,100,1977,90,1978,100,1979,85,1980,55,1981,95,1982,90,1983,125,1984,130,1985,80,1986,130,1987,140,1988,140,1989,150,1990,135,1991,120,1992,140,1993,175,1994,178,1995,178,1996,155,1997,185,1998,175,1999,105,2000,105,2001,100,2002,105,2003,140,2004,135,2005,105,2006,90,2007,90,2008,95,2009,100,2010,105,2011,100,2012,103,2013,85,2014,95,2015,95,2016,97,2017,90,2018,95,2019,70,2020,70,2021,65,2022,72];
var O_total = [1901,8,1905,6,1910,8,1915,7,1920,5,1925,10,1930,12,1935,15,1938,15,1940,20,1941,40,1942,30,1943,20,1944,15,1945,70,1946,10,1947,20,1948,30,1949,40,1950,60,1951,80,1952,120,1953,170,1954,190,1955,180,1956,185,1957,200,1958,240,1959,280,1960,345,1961,300,1962,240,1963,250,1964,310,1965,320,1966,290,1967,240,1968,190,1969,170,1970,190,1971,220,1972,140,1973,130,1974,150,1975,160,1976,150,1977,130,1978,120,1979,130,1980,110,1981,80,1982,110,1983,100,1984,165,1985,130,1986,140,1987,180,1988,190,1989,210,1990,230,1991,240,1992,225,1993,250,1994,265,1995,275,1996,285,1997,280,1998,260,1999,200,2000,190,2001,185,2002,165,2003,205,2004,190,2005,170,2006,135,2007,145,2008,150,2009,140,2010,140,2011,125,2012,130,2013,120,2014,125,2015,120,2016,115,2017,105,2018,95,2019,90,2020,85,2021,85,2022,90];

var titles = ["(A) Sardines in NP", "(B) Mackerels in NP", "(C) Horse mackerel in NP",
  "(D) Sardines in SP", "(E) Mackerels in SP", "(F) Horse mackerel in SP",
  "(G) Sardines in CSJ", "(H) Mackerels in CSJ", "(I) Horse mackerel in CSJ",
  "(J) Sardines in SSJ", "(K) Mackerels in SSJ", "(L) Horse mackerel in SSJ",
  "(M) Sardines", "(N) Mackerels", "(O) Horse mackerel"];
var yMax = [1000, 200, 40, 200, 100, 40, 200, 60, 20, 500, 400, 250, 3500, 1200, 350];
var yTicks = [
  [0,200,400,600,800,1000], [0,50,100,150,200], [0,10,20,30,40],
  [0,50,100,150,200], [0,20,40,60,80,100], [0,10,20,30,40],
  [0,50,100,150,200], [0,10,20,30,40,50,60], [0,5,10,15,20],
  [0,100,200,300,400,500], [0,100,200,300,400], [0,50,100,150,200,250],
  [0,500,1000,1500,2000,2500,3000,3500], [0,200,400,600,800,1000,1200], [0,50,100,150,200,250,300,350]];
var yLabels = [
  [0,200,600,1000], [0,50,100,150,200], [0,10,20,30,40],
  [0,50,100,150,200], [0,20,40,60,80,100], [0,10,20,30,40],
  [0,50,100,150,200], [0,10,20,30,40,50,60], [0,5,10,15,20],
  [0,100,300,500], [0,100,200,300,400], [0,50,100,200],
  [0,1000,2000,3000], [0,200,600,1000], [0,100,200,300]];
var xTicks = [1900, 1920, 1940, 1960, 1980, 2000, 2020];

var namesNP = ["Aomori", "Iwate", "Ibaraki", "Chiba"];
var namesSP = ["Kanagawa", "Shizuoka", "Mie", "Wakayama", "Kagoshima"];
var namesCSJ = ["Niigata", "Toyama", "Ishikawa", "Fukui"];
var namesSSJ = ["Tottori", "Shimane", "Nagasaki"];
var namesAll = ["NP", "SP", "CSJ", "SSJ", "total"];

document.addEventListener("DOMContentLoaded", function () {

  var colors = ["#000000", "#ff0000", "#00ff00", "#0000ff", "#000000"];
  var cellW = 664.5, cellH = 397.5;
  var boxL = 91, boxT = 42, boxW = 526, boxH = 260;

  var panelSeries = [
    [namesNP, [A_aomori, A_iwate, A_ibaraki, A_chiba]],
    [namesNP, [B_aomori, B_iwate, B_ibaraki, B_chiba]],
    [namesNP, [C_aomori, C_iwate, C_ibaraki, C_chiba]],
    [namesSP, [D_kanagawa, D_shizuoka, D_mie, D_wakayama, D_kagoshima]],
    [namesSP, [E_kanagawa, E_shizuoka, E_mie, E_wakayama, E_kagoshima]],
    [namesSP, [F_kanagawa, F_shizuoka, F_mie, F_wakayama, F_kagoshima]],
    [namesCSJ, [G_niigata, G_toyama, G_ishikawa, G_fukui]],
    [namesCSJ, [H_niigata, H_toyama, H_ishikawa, H_fukui]],
    [namesCSJ, [I_niigata, I_toyama, I_ishikawa, I_fukui]],
    [namesSSJ, [J_tottori, J_shimane, J_nagasaki]],
    [namesSSJ, [K_tottori, K_shimane, K_nagasaki]],
    [namesSSJ, [L_tottori, L_shimane, L_nagasaki]],
    [namesAll, [M_np, M_sp, M_csj, M_ssj, M_total]],
    [namesAll, [N_np, N_sp, N_csj, N_ssj, N_total]],
    [namesAll, [O_np, O_sp, O_csj, O_ssj, O_total]]
  ];

  function pairs(a) {
    var out = [];
    for (var i = 0; i < a.length; i += 2) out.push([a[i], a[i + 1]]);
    return out;
  }

  var svg = d3.select("#chart");
  svg.append("rect").attr("width", 1949).attr("height", 1986).attr("fill", "#fff");

  panelSeries.forEach(function (p, i) {
    var col = i % 3, row = Math.floor(i / 3);
    var g = svg.append("g")
      .attr("transform", "translate(" + (col * cellW + boxL) + "," + (row * cellH + boxT) + ")");

    var xScale = d3.scaleLinear().domain([1895, 2030]).range([0, boxW]);
    var yScale = d3.scaleLinear().domain([-0.04 * yMax[i], 1.04 * yMax[i]]).range([boxH, 0]);

    // dotted grid
    g.append("g").selectAll("line").data(xTicks).enter().append("line")
      .attr("x1", function (d) { return xScale(d); }).attr("x2", function (d) { return xScale(d); })
      .attr("y1", 0).attr("y2", boxH)
      .attr("stroke", "#c8c8c8").attr("stroke-width", 1.2).attr("stroke-dasharray", "1.5,2.5");
    g.append("g").selectAll("line").data(yTicks[i]).enter().append("line")
      .attr("y1", function (d) { return yScale(d); }).attr("y2", function (d) { return yScale(d); })
      .attr("x1", 0).attr("x2", boxW)
      .attr("stroke", "#c8c8c8").attr("stroke-width", 1.2).attr("stroke-dasharray", "1.5,2.5");

    var xAxis = d3.axisBottom(xScale).tickValues(xTicks).tickFormat(d3.format("d"))
      .tickSizeInner(9).tickSizeOuter(0).tickPadding(20.5);
    var xg = g.append("g").attr("transform", "translate(0," + boxH + ")").call(xAxis);

    var labs = yLabels[i];
    var yAxis = d3.axisLeft(yScale).tickValues(yTicks[i])
      .tickFormat(function (d) { return labs.indexOf(d) >= 0 ? d : ""; })
      .tickSizeInner(9).tickSizeOuter(0);
    var yg = g.append("g").call(yAxis);
    yg.selectAll(".tick text")
      .attr("x", null).attr("dy", null)
      .attr("transform", "translate(-26.5,0) rotate(-90)")
      .attr("text-anchor", "middle");

    [xg, yg].forEach(function (ax) {
      ax.select(".domain").remove();
      ax.selectAll(".tick line").attr("stroke", "#d0d0d0").attr("stroke-width", 1.2);
      ax.selectAll(".tick text").attr("fill", "#222").style("font-size", "16.5px")
        .style("font-family", "DejaVu Sans");
    });

    var clipId = "clip" + i;
    g.append("clipPath").attr("id", clipId).append("rect")
      .attr("width", boxW).attr("height", boxH);

    var line = d3.line()
      .x(function (d) { return xScale(d[0]); })
      .y(function (d) { return yScale(d[1]); });

    g.append("g").attr("clip-path", "url(#" + clipId + ")")
      .selectAll("path").data(p[1]).enter().append("path")
      .attr("d", function (s) { return line(pairs(s)); })
      .attr("fill", "none")
      .attr("stroke", function (s, k) { return colors[k]; })
      .attr("stroke-width", 1.8)
      .attr("stroke-linejoin", "round")
      .attr("stroke-dasharray", function (s, k) { return k === 4 ? "3,4" : null; });

    // box
    g.append("rect").attr("width", boxW).attr("height", boxH)
      .attr("fill", "none").attr("stroke", "#bdbdbd").attr("stroke-width", 2);
    g.append("path").attr("d", "M0,0V" + boxH + "H" + boxW)
      .attr("fill", "none").attr("stroke", "#6e6e6e").attr("stroke-width", 2);

    // legend
    var leg = g.append("g").selectAll("g").data(p[0]).enter().append("g")
      .attr("transform", function (d, k) { return "translate(0," + (23.5 + k * 22.8) + ")"; });
    leg.append("line").attr("x1", 18).attr("x2", 54).attr("y1", 0).attr("y2", 0)
      .attr("stroke", function (d, k) { return colors[k]; })
      .attr("stroke-width", 2)
      .attr("stroke-dasharray", function (d, k) { return k === 4 ? "3,4" : null; });
    leg.append("text").attr("x", 70.7).attr("y", 6.8)
      .style("font-size", "19px").attr("fill", "#222")
      .text(function (d) { return d; });

    g.append("text").attr("x", 0).attr("y", -15)
      .style("font-size", "28px").attr("fill", "#111")
      .text(titles[i]);

    g.append("text").attr("x", boxW / 2).attr("y", 347)
      .attr("text-anchor", "middle").style("font-size", "18.5px").attr("fill", "#222")
      .text("Year");

    g.append("text")
      .attr("transform", "translate(-72," + (boxH / 2) + ") rotate(-90)")
      .attr("text-anchor", "middle").style("font-size", "19px").attr("fill", "#222")
      .text("Catches (kilotonnes)");
  });

});
</script>
</body>
</html>
